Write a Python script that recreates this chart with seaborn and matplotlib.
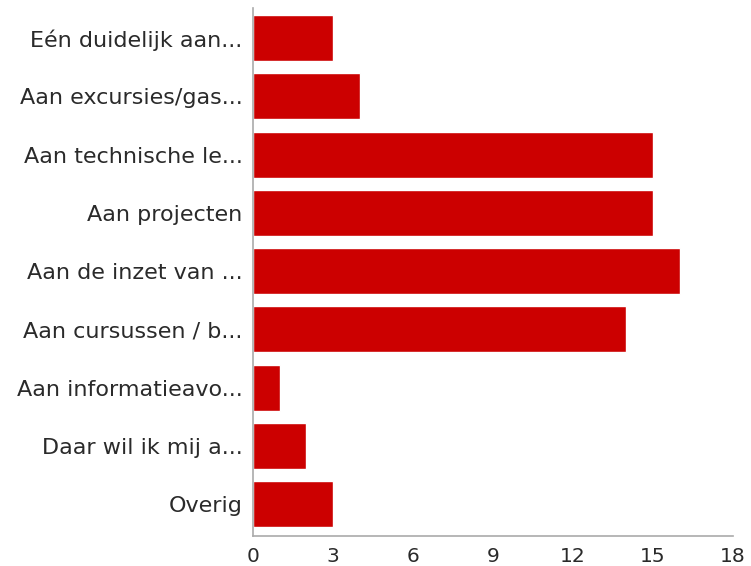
import matplotlib
matplotlib.use("Agg")
import matplotlib.pyplot as plt
import seaborn as sns
import pandas as pd

categories = [
    "Eén duidelijk aan...",
    "Aan excursies/gas...",
    "Aan technische le...",
    "Aan projecten",
    "Aan de inzet van ...",
    "Aan cursussen / b...",
    "Aan informatieavo...",
    "Daar wil ik mij a...",
    "Overig",
]
values = [3, 4, 15, 15, 16, 14, 1, 2, 3]
x_ticks = [0, 3, 6, 9, 12, 15, 18]

sns.set_style("white")
plt.rcParams['font.family'] = ['DejaVu Sans']

df = pd.DataFrame({"cat": categories, "val": values})

fig = plt.figure(figsize=(7.51, 5.66), dpi=100)
ax = fig.add_axes([253/751, 30/566, 480/751, 528/566])
sns.barplot(data=df, x="val", y="cat", orient="h", color="#cc0000",
            saturation=1, width=0.79, ax=ax)
ax.set_xlim(0, 18)
ax.set_ylim(8.55, -0.52)
ax.set_xticks(x_ticks)
ax.set_xticklabels([str(t) for t in x_ticks])
ax.set_xlabel("")
ax.set_ylabel("")
for s in ["top", "right"]:
    ax.spines[s].set_visible(False)
for s in ["left", "bottom"]:
    ax.spines[s].set_color("#aaaaaa")
    ax.spines[s].set_linewidth(1.2)
ax.tick_params(axis="y", length=4, width=1, color="#aaaaaa",
               labelsize=16, labelcolor="#2a2a2a", direction="out", pad=3.5)
ax.tick_params(axis="x", length=3.6, width=1, color="#aaaaaa",
               labelsize=14.5, labelcolor="#2a2a2a", direction="out", pad=4)
ax.grid(False)
fig.savefig("out.png", dpi=100)
